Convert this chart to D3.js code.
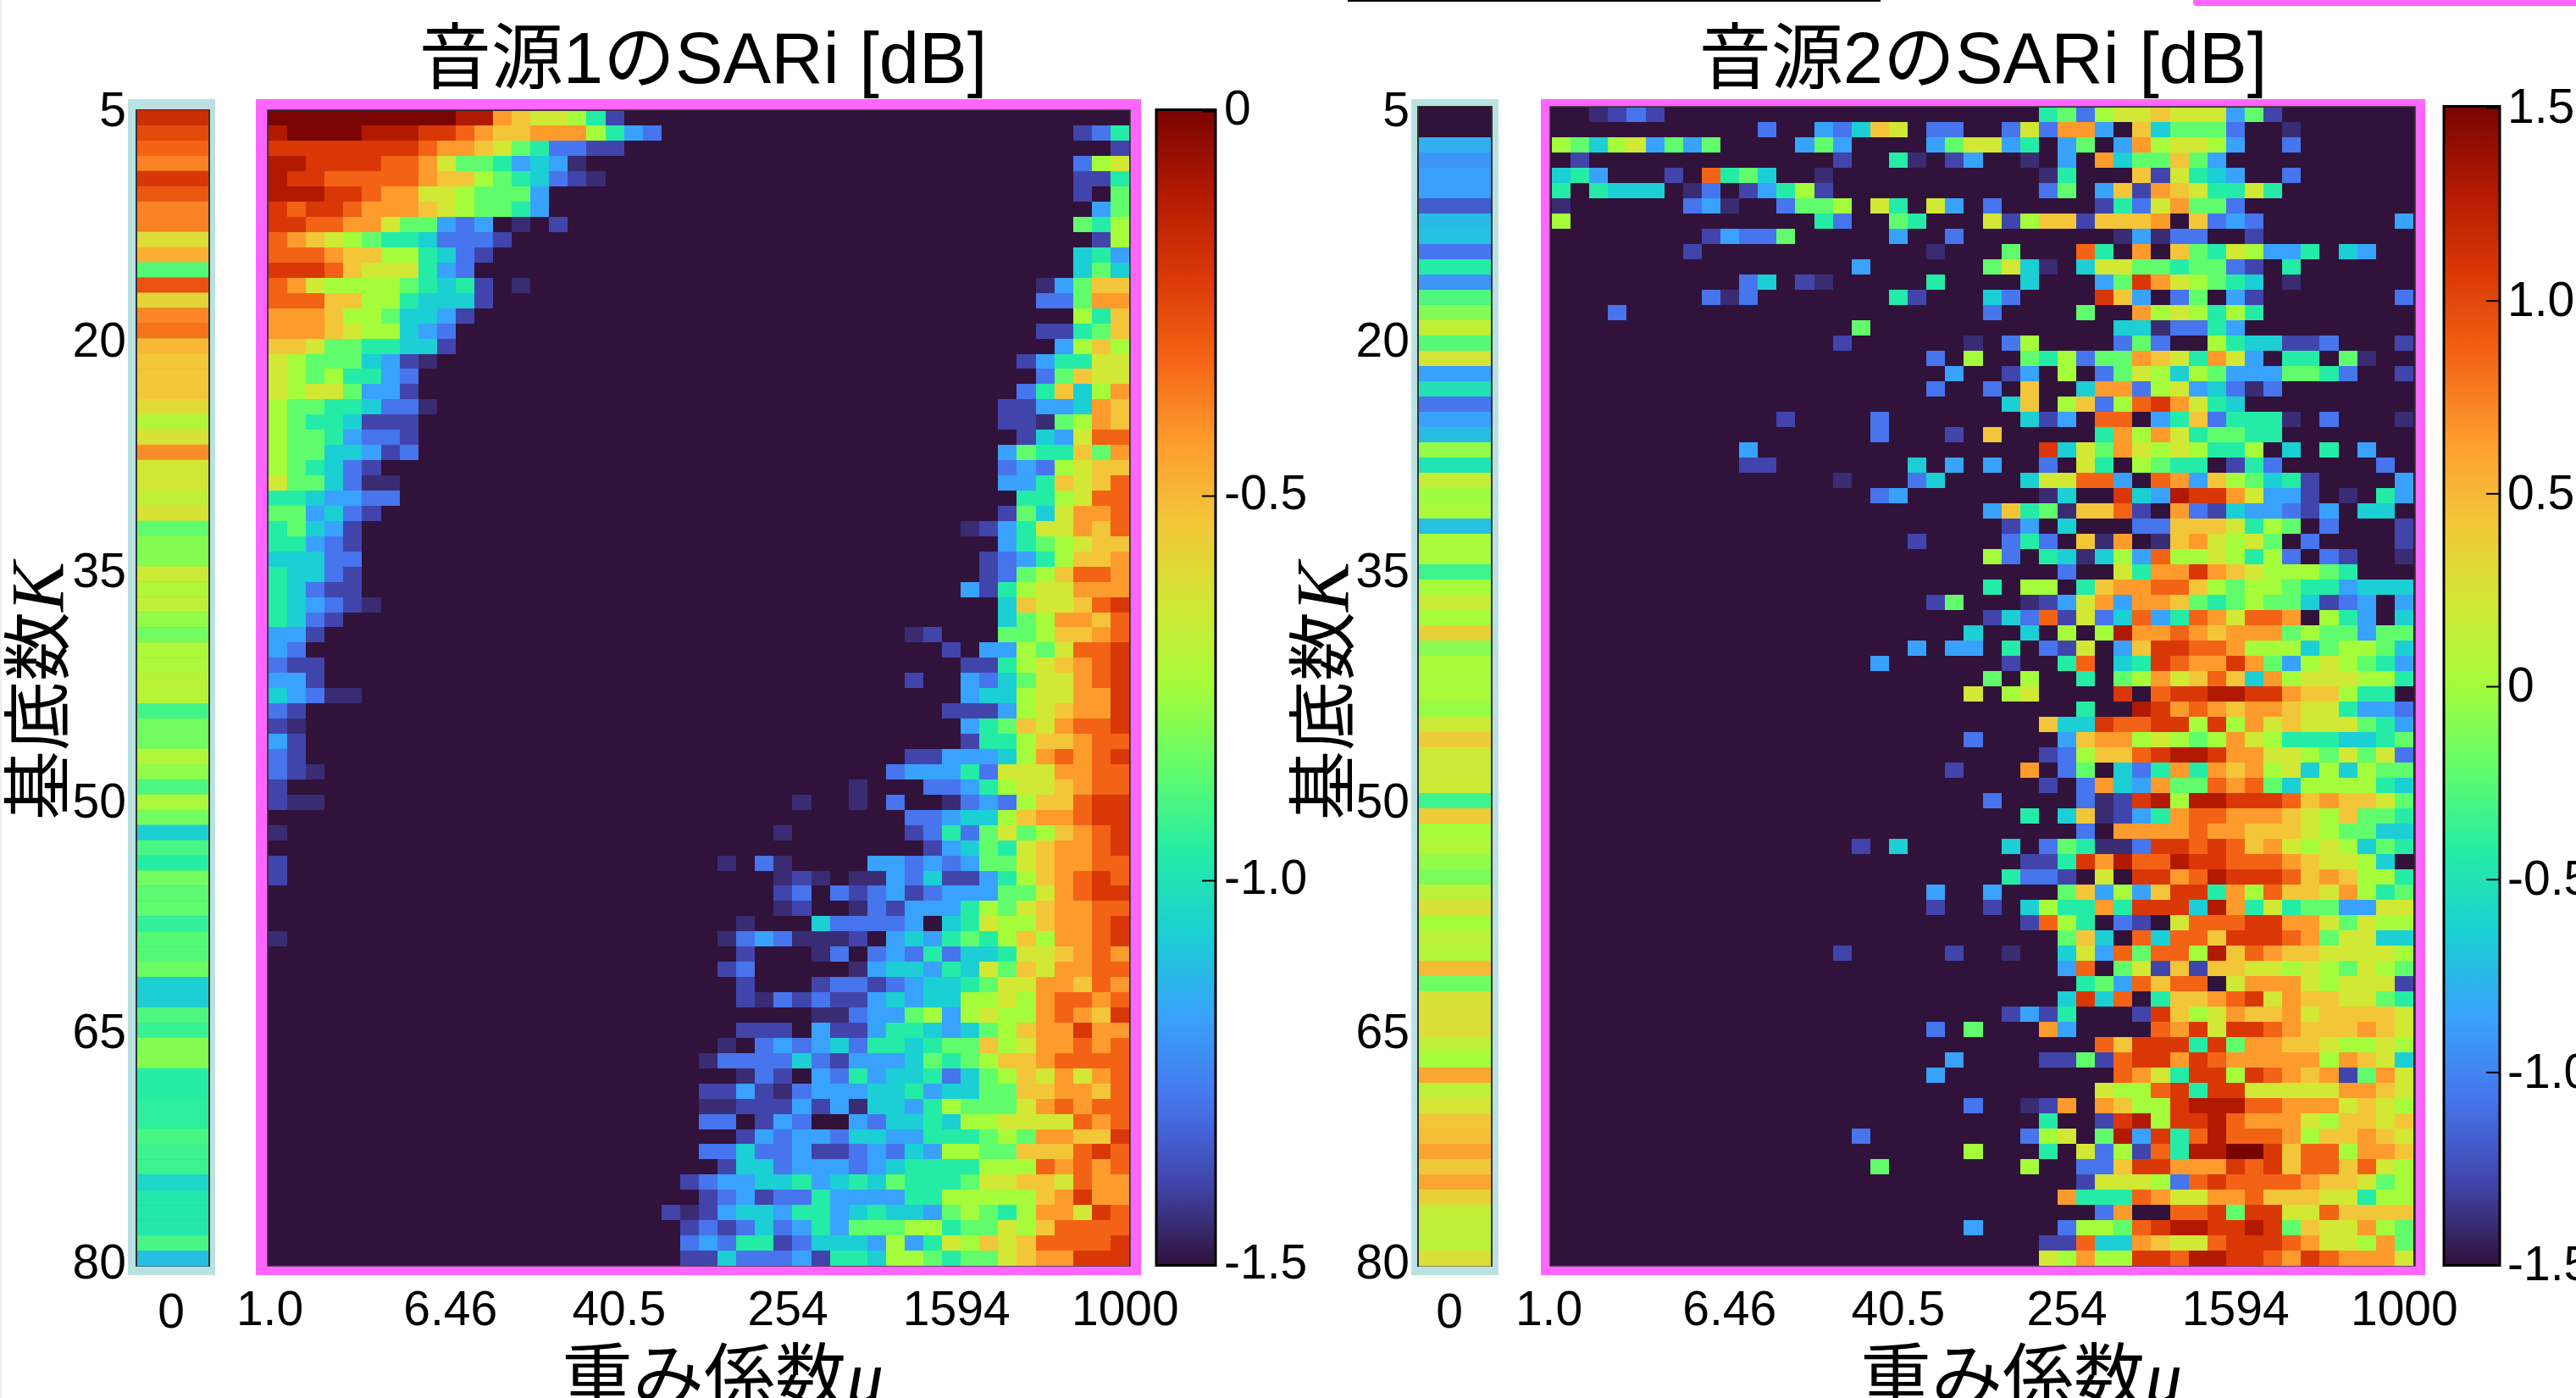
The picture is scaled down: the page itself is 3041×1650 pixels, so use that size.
<!DOCTYPE html>
<html>
<head>
<meta charset="utf-8">
<script src="https://cdn.jsdelivr.net/npm/d3@7"></script>
<style>
html,body{margin:0;padding:0;background:#fff;overflow:hidden}
svg{display:block}
text{font-family:"Liberation Sans","Noto Sans CJK JP",sans-serif;fill:#000}
</style>
</head>
<body>
<div id="chart"></div>
<script>
// tick labels
var kTicks=[5,20,35,50,65,80]
var muTicks=[0,9,18,27,36,45]
var muLabels=['1.0','6.46','40.5','254','1594','1000']
var bar1Ticks=[0,-0.5,-1.0,-1.5]
var bar1Labels=['0','-0.5','-1.0','-1.5']
var bar2Ticks=[1.5,1.0,0.5,0,-0.5,-1.0,-1.5]
var bar2Labels=['1.5','1.0','0.5','0','-0.5','-1.0','-1.5']
var turboStops=['#30123b','#4145ab','#4675ed','#39a2fc','#1bcfd4','#24eca6','#61fc6c','#a4fc3b','#d1e834','#f3c63a','#fe9b2d','#f36315','#d93806','#b11901','#7a0402']

// mu=0 column, K=5..80, dB
var strip1=[-0.18,-0.26,-0.32,-0.38,-0.21,-0.29,-0.38,-0.38,-0.61,-0.48,-0.88,-0.28,-0.58,-0.39,-0.35,-0.50,-0.54,-0.54,-0.54,-0.60,
-0.72,-0.62,-0.40,-0.64,-0.64,-0.68,-0.62,-0.86,-0.80,-0.80,-0.66,-0.72,-0.69,-0.78,-0.83,-0.73,-0.73,-0.70,-0.70,-0.91,
-0.83,-0.83,-0.72,-0.78,-0.89,-0.73,-0.83,-1.07,-0.90,-0.96,-0.83,-0.87,-0.86,-0.94,-0.88,-0.88,-0.84,-1.07,-1.07,-0.89,
-0.93,-0.80,-0.80,-0.96,-0.96,-0.95,-0.95,-0.90,-0.92,-0.92,-1.05,-0.98,-0.98,-0.98,-0.90,-1.11]
var strip2=[-1.5,-1.5,-0.79,-0.92,-0.86,-0.86,-1.18,-0.75,-0.71,-1.07,-0.43,-0.92,-0.28,-0.11,0.15,-0.26,0.24,-0.86,-0.51,-1.07,
-0.86,-0.73,-0.06,-0.49,0.15,-0.02,0.02,-0.71,0.02,0.02,-0.34,0,0.17,0,0.36,-0.09,0.02,0.02,0.02,-0.04,
0.19,0.39,0.19,0.19,0.19,-0.34,0.39,0,0.06,-0.06,-0.13,0.11,0.26,0,0.11,0.06,0.49,-0.17,0.26,0.28,
0.28,0.11,0,0.58,0.11,0.24,0.43,0.47,0.60,0.41,0.60,0.36,0.15,0.13,0.11,0.28]

// heatmap rows, one per K. "col:levels" runs, levels 0-e, x=half a step, rest is the floor value
var rows1=[
"0:eeeeeeeeeedda988751",
"0:deeeedddccba99aaa7532 43:125",
"0:ccccccccbaa98652211 45:1",
"0:ddccccbba8665343x 43:278",
"0:dccbbbbba99765421x 43:115",
"0:dddccbaa8876663 43:106",
"0:cbccbaaa9876653 44:36",
"0:ccbbaa8663230x01 43:657",
"0:ba98765542221 44:17",
"0:bbba99775421 43:453",
"0:cccb9888532 43:464",
"0:ba87777654510x 41:x3699",
"0:bbb997754441 41:226aa",
"0:aaa97764431 43:759",
"0:aaa9877432 41:11569",
"0:9986655441 42:3797",
"0:87666431x 40:135588",
"0:87675532 41:26988",
"0:87886331 40:25947a",
"0:76655422x 39:11334a9",
"0:76554111 39:11x67a9",
"0:76653221 40:1438bb",
"0:76644312 39:365596a",
"0:765421 39:2327899",
"0:86642xx 39:335989b",
"0:5543322 40:5578bb",
"0:663421 39:1648aab",
"0:56431 37:x13588a9b",
"0:55321 39:3567899",
"0:44422 38:1235799a",
"0:54421 38:12679bba",
"0:54211 37:315788aaa",
"0:54321x 39:49889bc",
"0:5421 39:467aa9b",
"0:331 34:x1 39:66799ab",
"0:32 36:1 38:33768bbc",
"0:211 37:115789abc",
"0:331 34:1 37:324688abc",
"0:432xx 37:344788aac",
"0:21 36:1113789aac",
"0:1x 37:35698abbc",
"0:31 37:155799abb",
"0:21 34:1133347ababc",
"0:21x 33:233352888aabb",
"0:1 31:x 35:22357889abb",
"0:1xx 28:x 31:x 33:2 36:x232799bcc",
"34:2234479aabcc",
"0:x 27:x 34:125268679abc",
"35:1346589aabc",
"0:1 24:x 26:2x 32:3323236689aabb",
"0:1 27:x1x 31:xx324113579abcb",
"27:12 30:212312333668abcc",
"27:x1 31:x2133357689aabb",
"25:x 29:4222230458779aabc",
"0:x 24:x232xxx10343565797aabc",
"25:1 29:x2023252445889aba",
"24:12 31:x3443548698aabb",
"25:1 29:122123445688aa9ba",
"25:1x21211343447787abbab",
"29:xx2336737877aba9c",
"25:111 29:311355434679aacaa",
"24:x 26:232342554566978aabab",
"23:x22224213334656799abbbb",
"25:x2103253445246798a8ab",
"23:1131x23334453446699aa9b",
"23:xx111313x443576668ababb",
"23:22013200324454778888bab",
"25:1323324433555676aa99c",
"23:22422311232437766999bcb",
"24:14423332345555777babab",
"22:123344534546555688998baa",
"23:1231225333355777779acaa",
"21:1x134435534544367657aa8cb",
"22:12124235366677566879bbbb",
"22:2325512444373587989bbbbc",
"22:1142223155477656689aaccc"
]
var rows2=[
"2:x121 26:5627889888361",
"11:2 14:3249802200282aa3094666200x",
"0:764783636 13:363 20:36883503603a78873002",
"1:1 15:1 18:5x 21:13 25:x 27:3 29:a466963",
"0:453 6:1 8:b564 14:x 26:x5 31:918543 39:2",
"0:5 2:5444 7:x2 10:13571 26:26 29:391a985585",
"0:x 7:23x 12:2667 17:85 20:83 23:2 29:1528a662",
"0:7 14:52 18:65 23:817991999a09232 45:3",
"8:13226 18:3 21:2 30:x3x22 37:1",
"7:1 20:x 24:6 28:b5 31:a 33:96587335 42:43",
"16:3 23:684x 28:4886656621 39:5",
"10:24 13:1x 20:5 25:4 29:36ca87654 39:x",
"8:2x2 18:51 23:42 29:c93026031 45:2",
"3:2 23:2 28:6 31:a787575",
"16:6 30:44x2253",
"15:1 22:x 24:27 30:262 35:7544112 45:1",
"20:2 22:7 25:657266a985a8305506x",
"21:3 24:13 27:7026874763336652 45:1",
"20:2 23:2 25:9 28:4aa278342x2",
"24:49 27:7927bca854",
"12:1 17:2 25:413 29:bb03592555x 41:2 45:x",
"17:2 21:1 23:9 29:5a7a856655",
"10:3 26:c486a8787557040503",
"10:11 19:4 21:3 23:3 26:2085076550152 44:2",
"15:x 19:24 25:488bb30ba3976451 45:3",
"17:23 26:x4 30:c43dcca8331 42:x 44:53",
"23:3956x99b10a21433213044",
"24:1304 31:22999857602 45:1",
"19:1 24:25209xa0x9a878602 45:1",
"23:72054x473b7787572021 45:x",
"27:2 30:85aaca9877765",
"23:5 25:77059aabb976776553444",
"20:16 25:x138a3aa9656766412303",
"23:142b1824b35ba8bba075304",
"22:4 25:40707daaba9aaa6766366",
"19:3 21:33 24:5 26:218039ccbba777467764",
"17:3 24:1 27:5b045cbaaca63787653",
"23:607 28:5067a89b94a7888775",
"22:8 24:78 30:c0bccddcca997550",
"28:5 31:dcaba9aa9885332",
"26:944cbbcc7c7a89888653",
"22:2 27:39aa78767a875554456",
"26:12799bcddcaa88768682",
"21:1 25:a0260425a5a9a78474766",
"26:1 28:2a43a66bab64777754",
"23:2 28:2x1cd7ddcccb9a9986",
"25:5 27:49x135abbaaa9879665",
"28:20aaaabaa999876644",
"16:1 18:4 24:40265xx2ccbcb9a8787465",
"25:115cadbbdccbbba988740",
"24:5221080ccabdcccb9a9775",
"20:3 23:3 27:693739cc5a7b998a756",
"20:1 23:1 25:4755a5ccc4da585663388",
"25:1b7502108bbbccaa86877",
"27:6940b4bb9cccba68844",
"15:1 21:1 24:x 27:483b6bb7d9ba9988887",
"27:3b06819199887876876",
"28:563b9bb08aaa878881",
"27:4c4b0599abc8a998865",
"24:1315 31:1c978a99a899998",
"20:2 22:6 26:a3 32:bac8ccba999a98",
"29:b9ccc5c6aa9987787",
"21:3 26:1161bccacbaaaaa7a984",
"20:3 30:ba85cc7cba9a16a8",
"29:877bc5cc88888aa98",
"22:2 25:x1a 29:a977cdddbbaaa8987",
"26:5 29:1cd7ccdbaaa879989",
"16:2 25:278 29:6d3c5bdbbba799a98",
"22:7 26:5 28:8271b5ddeec9bb7aa9",
"17:6 25:7 28:229ccaaacbc9bb9b87",
"28:188872bcbbbba99867",
"27:a555ba88aab99988577",
"29:2a00bbc6cc88b9999",
"22:3 27:2776bcddccdc6988a76",
"26:11b44a988bcccba887a6",
"26:87a77ccbddccbacbaaa8"
]

var nCols=46, nRows=76
var turbo=d3.scaleLinear().domain(d3.range(15).map(i=>i/14)).range(turboStops)

// rows -> cells in dB
function decode(rows,vmin,vmax){
    var out=[]
    rows.forEach(function(r,i){
        r.split(' ').forEach(function(seg){
            var p=seg.split(':')
            var start=+p[0]
            p[1].split('').forEach(function(ch,j){
                var lvl=ch=='x'?0.5:parseInt(ch,16)
                if(lvl>0){
                    out.push({row:i,col:start+j,value:vmin+lvl/14*(vmax-vmin)})
                }
            })
        })
    })
    return out
}

var svg=d3.select('#chart').append('svg').attr('width',3041).attr('height',1650)

// stray lines on the top edge of the source image
svg.append('rect').attr('x',0).attr('y',0).attr('width',2).attr('height',1650).attr('fill','#eeeeee')
svg.append('rect').attr('x',1591).attr('y',0).attr('width',629).attr('height',2).attr('fill','#000')
svg.append('rect').attr('x',2589).attr('y',-6).attr('width',470).attr('height',13).attr('rx',4).attr('fill','#ff66ff')

function addLabel(sel,txt,sym){
    sel.append('tspan').text(txt)
    sel.append('tspan').attr('font-family','Liberation Serif').attr('font-style','italic').attr('font-size',88).text(sym)
}

function panel(p){
    var g=svg.append('g')
    var color=d3.scaleLinear().domain([p.vmin,p.vmax]).range([0,1])

    g.append('text').attr('x',p.titleX).attr('y',98).attr('text-anchor','middle').attr('font-size',85).text(p.title)

    // mu=0 strip
    g.append('rect').attr('x',p.stripOuter[0]).attr('y',117).attr('width',p.stripOuter[1]-p.stripOuter[0]).attr('height',1388).attr('fill','#b9e1e2')
    var stripY=d3.scaleLinear().domain([0,nRows]).range([p.top,1494])
    g.append('rect').attr('x',p.strip[0]-2).attr('y',p.top-1).attr('width',p.strip[1]-p.strip[0]+4).attr('height',1496-p.top).attr('fill','#333')
    g.append('g').selectAll('rect').data(p.stripData).join('rect')
        .attr('x',p.strip[0])
        .attr('y',(d,i)=>stripY(i))
        .attr('width',p.strip[1]-p.strip[0])
        .attr('height',(d,i)=>stripY(i+1)-stripY(i)+0.5)
        .attr('fill',d=>turbo(color(d)))

    // heatmap
    g.append('rect').attr('x',p.frame[0]).attr('y',117).attr('width',p.frame[1]-p.frame[0]).attr('height',1388).attr('fill','#ff66ff')
    g.append('rect').attr('x',p.inner[0]).attr('y',p.top).attr('width',p.inner[1]-p.inner[0]).attr('height',1494-p.top).attr('fill','#30123b').attr('stroke','#333').attr('stroke-width',1.5)
    var x=d3.scaleLinear().domain([0,nCols]).range(p.cells)
    var y=d3.scaleLinear().domain([0,nRows]).range([p.top+0.5,1494])
    g.append('g').attr('shape-rendering','crispEdges').selectAll('rect').data(decode(p.rows,p.vmin,p.vmax)).join('rect')
        .attr('x',d=>x(d.col))
        .attr('y',d=>y(d.row))
        .attr('width',d=>x(d.col+1)-x(d.col))
        .attr('height',d=>y(d.row+1)-y(d.row))
        .attr('fill',d=>turbo(color(d.value)))

    // axes
    var kScale=d3.scaleLinear().domain([5,80]).range([130,1490])
    var yAxis=g.append('g').attr('transform','translate('+p.kRight+',0)')
        .call(d3.axisLeft(kScale).tickValues(kTicks).tickSize(0).tickPadding(0))
    var muScale=d3.scaleLinear().domain([0,nCols]).range(p.muRange)
    var xAxis=g.append('g').attr('transform','translate(0,1524)')
        .call(d3.axisBottom(muScale).tickValues(muTicks).tickSize(0).tickPadding(0).tickFormat((d,i)=>muLabels[i]))
    xAxis.selectAll('text').attr('dx',(d,i)=>i==0?p.firstNudge:0)
    ;[yAxis,xAxis].forEach(function(a){
        a.select('.domain').remove()
        a.attr('font-family',null)
        a.selectAll('text').attr('font-size',57)
    })
    xAxis.selectAll('text').attr('dy','0.71em')
    yAxis.selectAll('text').attr('dy','0.33em')

    g.append('text').attr('x',p.strip0X).attr('y',1567).attr('text-anchor','middle').attr('font-size',57).text('0')

    addLabel(g.append('text').attr('x',p.xLabelX).attr('y',1655).attr('font-size',84),'重み係数','μ')
    addLabel(g.append('text').attr('transform','translate('+p.yLabelX+',968) rotate(-90)').attr('font-size',82),'基底数','K')

    // colorbar
    var id='grad'+p.id
    var grad=svg.append('defs').append('linearGradient').attr('id',id).attr('x1',0).attr('x2',0).attr('y1',1).attr('y2',0)
    turboStops.forEach(function(c,i){
        grad.append('stop').attr('offset',i/14).attr('stop-color',c)
    })
    g.append('rect').attr('x',p.bar[0]).attr('y',p.top-0.5).attr('width',p.bar[1]-p.bar[0]).attr('height',1494-p.top)
        .attr('fill','url(#'+id+')').attr('stroke','#000').attr('stroke-width',3)
    var barScale=d3.scaleLinear().domain([p.vmin,p.vmax]).range([1493,p.top+1])
    var barAxis=g.append('g').attr('transform','translate('+p.bar[1]+',0)')
        .call(d3.axisRight(barScale).tickValues(p.barTicks).tickSize(-16).tickPadding(p.barPad).tickFormat((d,i)=>p.barLabels[i]))
    barAxis.select('.domain').remove()
    barAxis.attr('font-family',null)
    barAxis.selectAll('line').attr('stroke','#000').attr('stroke-width',2)
    barAxis.selectAll('text').attr('font-size',57).attr('dy',p.barDy)
}

panel({id:1,title:'音源1のSARi [dB]',titleX:830,vmin:-1.5,vmax:0,rows:rows1,stripData:strip1,top:130,
    stripOuter:[151,254],strip:[162,246],frame:[302,1347],inner:[316,1334],cells:[317,1333],
    kRight:149,muRange:[332,1350],firstNudge:-14,strip0X:202,xLabelX:663,yLabelX:74,
    bar:[1365,1435],barTicks:bar1Ticks,barLabels:bar1Labels,barPad:10,barDy:'0.28em'})

panel({id:2,title:'音源2のSARi [dB]',titleX:2341,vmin:-1.5,vmax:1.5,rows:rows2,stripData:strip2,top:126,
    stripOuter:[1666,1769],strip:[1675,1760],frame:[1819,2863],inner:[1830,2851],cells:[1832,2849],
    kRight:1664,muRange:[1842,2860],firstNudge:-14,strip0X:1711,xLabelX:2196,yLabelX:1591,
    bar:[2885,2951],barTicks:bar2Ticks,barLabels:bar2Labels,barPad:9,barDy:'0.31em'})
</script>
</body>
</html>
